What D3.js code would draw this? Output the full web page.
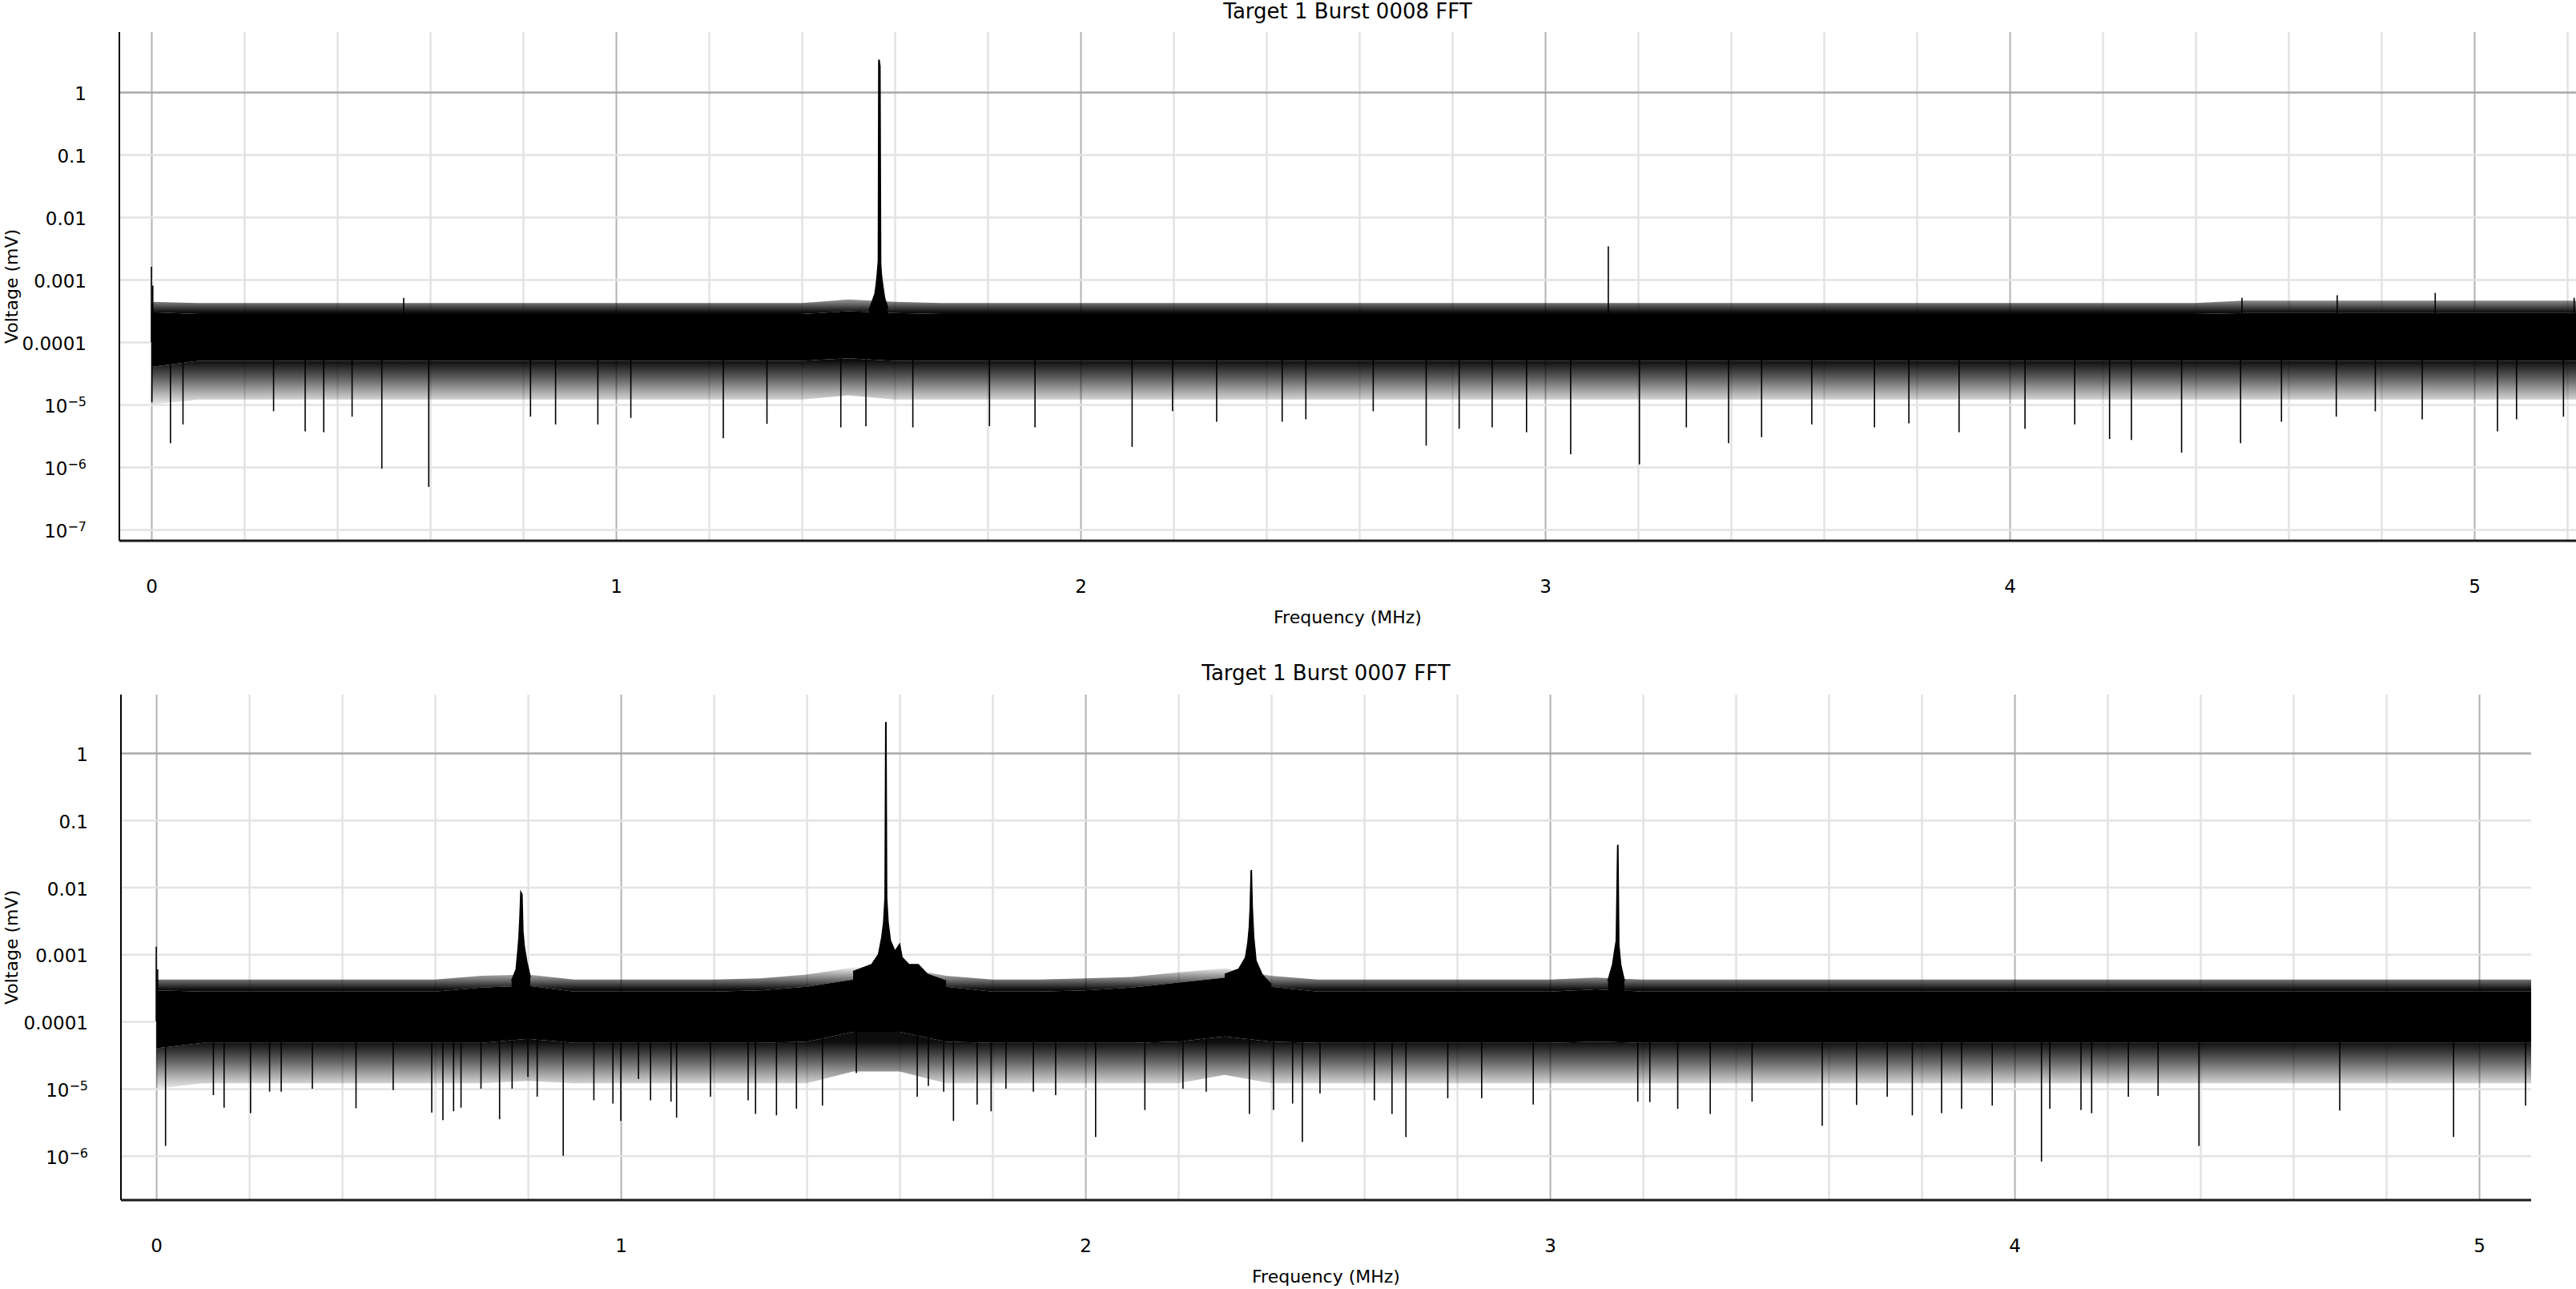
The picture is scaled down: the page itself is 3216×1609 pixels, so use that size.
<!DOCTYPE html>
<html>
<head>
<meta charset="utf-8">
<script src="https://cdn.jsdelivr.net/npm/d3@7"></script>
<style>
html, body { margin: 0; padding: 0; background: #fff; }
svg { display: block; }
</style>
</head>
<body>
<svg id="chart" width="3216" height="1609"></svg>
<script>
// ================= DATA =================
const titles = ["Target 1 Burst 0008 FFT", "Target 1 Burst 0007 FFT"];
const xAxisTitle = "Frequency (MHz)";
const yAxisTitle = "Voltage (mV)";
const xTickValues = [0, 1, 2, 3, 4, 5];
const xTickLabels = ["0", "1", "2", "3", "4", "5"];
const yTickValues8 = [1, 0.1, 0.01, 0.001, 0.0001, 1e-5, 1e-6, 1e-7];
const yTickLabels8 = ["1", "0.1", "0.01", "0.001", "0.0001", "10^-5", "10^-6", "10^-7"];
const yTickValues7 = [1, 0.1, 0.01, 0.001, 0.0001, 1e-5, 1e-6];
const yTickLabels7 = ["1", "0.1", "0.01", "0.001", "0.0001", "10^-5", "10^-6"];

// ---- Burst 0008: noise band read per 0.1 MHz (mV) ----
const binFreq8 = [0,0.1,0.2,0.3,0.4,0.5,0.6,0.7,0.8,0.9,1.0,1.1,1.2,1.3,1.4,1.5,1.6,1.7,1.8,1.9,
  2.0,2.1,2.2,2.3,2.4,2.5,2.6,2.7,2.8,2.9,3.0,3.1,3.2,3.3,3.4,3.5,3.6,3.7,3.8,3.9,
  4.0,4.1,4.2,4.3,4.4,4.5,4.6,4.7,4.8,4.9,5.0,5.1,5.2,5.219];
const coreHi8 = [3.0e-4,2.8e-4,2.8e-4,2.8e-4,2.8e-4,2.8e-4,2.8e-4,2.8e-4,2.8e-4,2.8e-4,
  2.8e-4,2.8e-4,2.8e-4,2.8e-4,2.8e-4,3.1e-4,2.9e-4,2.8e-4,2.8e-4,2.8e-4,
  2.8e-4,2.8e-4,2.8e-4,2.8e-4,2.8e-4,2.8e-4,2.8e-4,2.8e-4,2.8e-4,2.8e-4,
  2.8e-4,2.8e-4,2.8e-4,2.8e-4,2.8e-4,2.8e-4,2.8e-4,2.8e-4,2.8e-4,2.8e-4,
  2.8e-4,2.8e-4,2.8e-4,2.8e-4,2.8e-4,2.9e-4,2.9e-4,2.9e-4,2.9e-4,2.9e-4,
  2.9e-4,2.9e-4,2.9e-4,2.9e-4];
const coreLo8 = [4.0e-5,5.0e-5,5.0e-5,5.0e-5,5.0e-5,5.0e-5,5.0e-5,5.0e-5,5.0e-5,5.0e-5,
  5.0e-5,5.0e-5,5.0e-5,5.0e-5,5.0e-5,5.5e-5,5.0e-5,5.0e-5,5.0e-5,5.0e-5,
  5.0e-5,5.0e-5,5.0e-5,5.0e-5,5.0e-5,5.0e-5,5.0e-5,5.0e-5,5.0e-5,5.0e-5,
  5.0e-5,5.0e-5,5.0e-5,5.0e-5,5.0e-5,5.0e-5,5.0e-5,5.0e-5,5.0e-5,5.0e-5,
  5.0e-5,5.0e-5,5.0e-5,5.0e-5,5.0e-5,5.0e-5,5.0e-5,5.0e-5,5.0e-5,5.0e-5,
  5.0e-5,5.0e-5,5.0e-5,5.0e-5];
const envHi8 = [4.4e-4,4.2e-4,4.2e-4,4.2e-4,4.2e-4,4.2e-4,4.2e-4,4.2e-4,4.2e-4,4.2e-4,
  4.2e-4,4.2e-4,4.2e-4,4.2e-4,4.2e-4,4.8e-4,4.4e-4,4.2e-4,4.2e-4,4.2e-4,
  4.2e-4,4.2e-4,4.2e-4,4.2e-4,4.2e-4,4.2e-4,4.2e-4,4.2e-4,4.2e-4,4.2e-4,
  4.2e-4,4.2e-4,4.2e-4,4.2e-4,4.2e-4,4.2e-4,4.2e-4,4.2e-4,4.2e-4,4.2e-4,
  4.2e-4,4.2e-4,4.2e-4,4.2e-4,4.2e-4,4.6e-4,4.6e-4,4.6e-4,4.6e-4,4.6e-4,
  4.6e-4,4.6e-4,4.6e-4,4.6e-4];
const envLo8 = [1.0e-5,1.2e-5,1.2e-5,1.2e-5,1.2e-5,1.2e-5,1.2e-5,1.2e-5,1.2e-5,1.2e-5,
  1.2e-5,1.2e-5,1.2e-5,1.2e-5,1.2e-5,1.4e-5,1.2e-5,1.2e-5,1.2e-5,1.2e-5,
  1.2e-5,1.2e-5,1.2e-5,1.2e-5,1.2e-5,1.2e-5,1.2e-5,1.2e-5,1.2e-5,1.2e-5,
  1.2e-5,1.2e-5,1.2e-5,1.2e-5,1.2e-5,1.2e-5,1.2e-5,1.2e-5,1.2e-5,1.2e-5,
  1.2e-5,1.2e-5,1.2e-5,1.2e-5,1.2e-5,1.2e-5,1.2e-5,1.2e-5,1.2e-5,1.2e-5,
  1.2e-5,1.2e-5,1.2e-5,1.2e-5];
// peak profiles [MHz, mV]
const peaks8 = [
  [[1.545,3.2e-4],[1.552,4.5e-4],[1.558,6e-4],[1.561,9e-4],[1.563,1.3e-3],[1.565,2.0e-3],
   [1.566,3.3],[1.568,2.6],[1.5695,1.8e-3],[1.571,1.2e-3],[1.574,8e-4],[1.578,5e-4],[1.585,3.5e-4]]
];
const upSpikes8 = [[0,1.6e-3],[0.003,8e-4],[0.543,5.1e-4],[3.136,3.4e-3],[4.50,5.1e-4],
  [4.705,5.6e-4],[4.916,6.1e-4],[5.215,5.1e-4]];
const downSpikes8 = [[0.001,1.1e-5],[0.041,2.4e-6],[0.068,4.8e-6],[0.263,7.8e-6],[0.331,3.7e-6],
  [0.371,3.6e-6],[0.432,6.4e-6],[0.496,9.4e-7],[0.597,4.8e-7],[0.816,6.4e-6],[0.870,4.8e-6],
  [0.961,4.8e-6],[1.032,6.1e-6],[1.231,2.9e-6],[1.325,4.9e-6],[1.484,4.3e-6],[1.538,4.5e-6],
  [1.639,4.3e-6],[1.804,4.5e-6],[1.902,4.3e-6],[2.111,2.1e-6],[2.198,7.8e-6],[2.293,5.3e-6],
  [2.434,5.3e-6],[2.485,5.8e-6],[2.630,7.8e-6],[2.744,2.2e-6],[2.815,4.1e-6],[2.886,4.3e-6],
  [2.960,3.6e-6],[3.055,1.6e-6],[3.203,1.1e-6],[3.304,4.3e-6],[3.395,2.4e-6],[3.466,3.0e-6],
  [3.574,4.8e-6],[3.709,4.3e-6],[3.783,5.0e-6],[3.891,3.6e-6],[4.033,4.1e-6],[4.140,4.8e-6],
  [4.215,2.8e-6],[4.262,2.7e-6],[4.370,1.7e-6],[4.497,2.4e-6],[4.585,5.3e-6],[4.703,6.4e-6],
  [4.787,7.8e-6],[4.888,5.8e-6],[5.050,3.7e-6],[5.091,5.8e-6],[5.192,6.4e-6]];

// ---- Burst 0007: noise band read per 0.1 MHz (mV) ----
const binFreq7 = [0,0.1,0.2,0.3,0.4,0.5,0.6,0.7,0.8,0.9,1.0,1.1,1.2,1.3,1.4,1.5,1.6,1.7,1.8,1.9,
  2.0,2.1,2.2,2.3,2.4,2.5,2.6,2.7,2.8,2.9,3.0,3.1,3.2,3.3,3.4,3.5,3.6,3.7,3.8,3.9,
  4.0,4.1,4.2,4.3,4.4,4.5,4.6,4.7,4.8,4.9,5.0,5.1,5.112];
const coreHi7 = [2.9e-4,2.8e-4,2.8e-4,2.8e-4,2.8e-4,2.8e-4,2.8e-4,3.2e-4,3.4e-4,2.8e-4,
  2.8e-4,2.8e-4,2.8e-4,2.9e-4,3.3e-4,4.2e-4,4.4e-4,3.3e-4,2.8e-4,2.8e-4,
  2.9e-4,3.2e-4,3.8e-4,4.5e-4,3.3e-4,2.8e-4,2.8e-4,2.8e-4,2.8e-4,2.8e-4,
  2.8e-4,3.0e-4,2.8e-4,2.8e-4,2.8e-4,2.8e-4,2.8e-4,2.8e-4,2.8e-4,2.8e-4,
  2.8e-4,2.8e-4,2.8e-4,2.8e-4,2.8e-4,2.8e-4,2.8e-4,2.8e-4,2.8e-4,2.8e-4,
  2.8e-4,2.8e-4,2.8e-4];
const coreLo7 = [4.0e-5,4.8e-5,4.8e-5,4.8e-5,4.8e-5,4.8e-5,4.8e-5,4.8e-5,5.5e-5,4.8e-5,
  4.8e-5,4.8e-5,4.8e-5,4.8e-5,5.0e-5,7.0e-5,7.0e-5,5.0e-5,4.8e-5,4.8e-5,
  4.8e-5,4.8e-5,5.0e-5,6.0e-5,5.0e-5,4.8e-5,4.8e-5,4.8e-5,4.8e-5,4.8e-5,
  4.8e-5,5.0e-5,4.8e-5,4.8e-5,4.8e-5,4.8e-5,4.8e-5,4.8e-5,4.8e-5,4.8e-5,
  4.8e-5,4.8e-5,4.8e-5,4.8e-5,4.8e-5,4.8e-5,4.8e-5,4.8e-5,4.8e-5,4.8e-5,
  4.8e-5,4.8e-5,4.8e-5];
const envHi7 = [4.2e-4,4.2e-4,4.2e-4,4.2e-4,4.2e-4,4.2e-4,4.2e-4,4.8e-4,5.0e-4,4.2e-4,
  4.2e-4,4.2e-4,4.2e-4,4.4e-4,5.0e-4,6.4e-4,6.5e-4,4.8e-4,4.2e-4,4.2e-4,
  4.4e-4,4.6e-4,5.4e-4,6.2e-4,4.8e-4,4.2e-4,4.2e-4,4.2e-4,4.2e-4,4.2e-4,
  4.2e-4,4.5e-4,4.2e-4,4.2e-4,4.2e-4,4.2e-4,4.2e-4,4.2e-4,4.2e-4,4.2e-4,
  4.2e-4,4.2e-4,4.2e-4,4.2e-4,4.2e-4,4.2e-4,4.2e-4,4.2e-4,4.2e-4,4.2e-4,
  4.2e-4,4.2e-4,4.2e-4];
const envLo7 = [1.0e-5,1.2e-5,1.2e-5,1.2e-5,1.2e-5,1.2e-5,1.2e-5,1.2e-5,1.3e-5,1.2e-5,
  1.2e-5,1.2e-5,1.2e-5,1.2e-5,1.2e-5,1.8e-5,1.8e-5,1.2e-5,1.2e-5,1.2e-5,
  1.2e-5,1.2e-5,1.2e-5,1.6e-5,1.2e-5,1.2e-5,1.2e-5,1.2e-5,1.2e-5,1.2e-5,
  1.2e-5,1.2e-5,1.2e-5,1.2e-5,1.2e-5,1.2e-5,1.2e-5,1.2e-5,1.2e-5,1.2e-5,
  1.2e-5,1.2e-5,1.2e-5,1.2e-5,1.2e-5,1.2e-5,1.2e-5,1.2e-5,1.2e-5,1.2e-5,
  1.2e-5,1.2e-5,1.2e-5];
const peaks7 = [
  [[0.765,4e-4],[0.775,6e-4],[0.779,1.2e-3],[0.781,1.8e-3],[0.783,3.5e-3],[0.785,8.3e-3],
   [0.787,7.8e-3],[0.789,2.2e-3],[0.792,1.3e-3],[0.797,8e-4],[0.805,4.5e-4]],
  [[1.50,5.5e-4],[1.54,7e-4],[1.555,1e-3],[1.562,1.8e-3],[1.566,3e-3],[1.569,7e-3],[1.5705,2.9],
   [1.572,7e-3],[1.575,3e-3],[1.58,1.6e-3],[1.59,1.1e-3],[1.60,1.4e-3],[1.605,9e-4],[1.62,7e-4],
   [1.64,7.0e-4],[1.66,5e-4],[1.70,4e-4]],
  [[2.30,5e-4],[2.33,6e-4],[2.345,9e-4],[2.350,1.5e-3],[2.353,2.5e-3],[2.355,5e-3],[2.357,0.018],
   [2.359,5e-3],[2.362,1.8e-3],[2.367,8e-4],[2.38,5e-4],[2.40,3.5e-4]],
  [[3.125,4e-4],[3.135,7e-4],[3.140,1.2e-3],[3.143,1.6e-3],[3.146,0.043],[3.148,1.4e-3],
   [3.152,7e-4],[3.16,4e-4]]
];
const upSpikes7 = [[0,1.3e-3],[0.003,6e-4]];
const downSpikes7 = [[0.02,1.4e-6],[0.123,8e-6],[0.146,5.2e-6],[0.203,4.3e-6],[0.244,9e-6],
  [0.269,9e-6],[0.336,1e-5],[0.43,5.1e-6],[0.51,9.5e-6],[0.593,4.4e-6],[0.617,3.4e-6],
  [0.64,4.6e-6],[0.656,5.2e-6],[0.699,1e-5],[0.739,3.5e-6],[0.766,1e-5],[0.80,1.5e-5],
  [0.82,7.6e-6],[0.876,1.0e-6],[0.942,6.7e-6],[0.983,6e-6],[1.0,3.3e-6],[1.038,1.4e-5],
  [1.064,6.7e-6],[1.108,6.4e-6],[1.12,3.7e-6],[1.193,7.6e-6],[1.274,6.7e-6],[1.29,4.2e-6],
  [1.335,4e-6],[1.378,5e-6],[1.434,5.6e-6],[1.507,1.7e-5],[1.638,7.6e-6],[1.662,1.1e-5],
  [1.695,9e-6],[1.716,3.3e-6],[1.767,5.8e-6],[1.797,4.6e-6],[1.829,1e-5],[1.888,9e-6],
  [1.936,8e-6],[2.022,1.9e-6],[2.128,4.8e-6],[2.21,1e-5],[2.26,9e-6],[2.353,4.2e-6],
  [2.405,4.8e-6],[2.446,6e-6],[2.467,1.6e-6],[2.505,8.5e-6],[2.622,6.7e-6],[2.66,4.2e-6],
  [2.69,1.9e-6],[2.78,7.2e-6],[2.853,7.2e-6],[2.964,5.8e-6],[3.189,6.4e-6],[3.215,6.3e-6],
  [3.275,5e-6],[3.345,4.2e-6],[3.435,6.4e-6],[3.586,2.8e-6],[3.66,5.7e-6],[3.726,7.6e-6],
  [3.78,4e-6],[3.843,4.3e-6],[3.886,5e-6],[3.952,5.6e-6],[4.058,8.2e-7],[4.076,5e-6],
  [4.143,4.8e-6],[4.166,4.3e-6],[4.245,7.6e-6],[4.309,7.8e-6],[4.397,1.4e-6],[4.70,4.7e-6],
  [4.945,1.9e-6],[5.10,5.6e-6]];

// ================= LAYOUT =================
const FONT = "'DejaVu Sans', Verdana, sans-serif";
const minorGridStep = 0.2;
const charts = [
  { title: titles[0], freq: binFreq8, coreHi: coreHi8, coreLo: coreLo8, envHi: envHi8, envLo: envLo8,
    peaks: peaks8, up: upSpikes8, down: downSpikes8, yTicks: yTickValues8, yLabels: yTickLabels8,
    left: 149, right: 3216, top: 40, bottom: 675, xDomain: [-0.069, 5.219], yLogDomain: [0.96, -7.18], titleY: 23 },
  { title: titles[1], freq: binFreq7, coreHi: coreHi7, coreLo: coreLo7, envHi: envHi7, envLo: envLo7,
    peaks: peaks7, up: upSpikes7, down: downSpikes7, yTicks: yTickValues7, yLabels: yTickLabels7,
    left: 151, right: 3160, top: 867, bottom: 1498, xDomain: [-0.076, 5.112], yLogDomain: [0.87, -6.66], titleY: 849 }
];

const svg = d3.select("#chart");
const defs = svg.append("defs");

function addGradient(id, stops) {
  const lg = defs.append("linearGradient").attr("id", id)
    .attr("gradientUnits", "userSpaceOnUse")
    .attr("x1", 0).attr("x2", 0).attr("y1", stops[0][0]).attr("y2", stops[stops.length - 1][0]);
  const y0 = stops[0][0], y1 = stops[stops.length - 1][0];
  stops.forEach(s => lg.append("stop").attr("offset", (s[0] - y0) / (y1 - y0))
    .attr("stop-color", "#000").attr("stop-opacity", s[1]));
}

charts.forEach((c, ci) => {
  const x = d3.scaleLinear().domain(c.xDomain).range([c.left, c.right]);
  const y = d3.scaleLog().domain([Math.pow(10, c.yLogDomain[0]), Math.pow(10, c.yLogDomain[1])]).range([c.top, c.bottom]);
  const W = c.right - c.left, H = c.bottom - c.top;
  const g = svg.append("g");

  const clipId = "clip" + ci;
  defs.append("clipPath").attr("id", clipId).append("rect")
    .attr("x", c.left).attr("y", c.top).attr("width", W).attr("height", H);

  // fringe shading (density of noise lines falls off away from the core)
  addGradient("gUp" + ci, [[y(6.5e-4), 0.05], [y(4.2e-4), 0.55], [y(3.0e-4), 0.95]]);
  addGradient("gLo" + ci, [[y(5e-5), 0.95], [y(2.5e-5), 0.6], [y(1.5e-5), 0.3], [y(1.0e-5), 0.08]]);

  // vertical grid
  const minorTicks = d3.range(0, c.xDomain[1] + 1e-9, minorGridStep).map(v => Math.round(v * 10) / 10);
  g.append("g").attr("transform", `translate(0,${c.bottom})`)
    .call(d3.axisBottom(x).tickValues(minorTicks).tickSize(-H).tickFormat(""))
    .call(a => a.select(".domain").remove())
    .selectAll("line")
    .attr("stroke", d => Number.isInteger(d) ? "#b2b2b2" : "#e3e3e3")
    .attr("stroke-width", d => Number.isInteger(d) ? 2 : 2.5);

  // horizontal grid
  g.append("g").attr("transform", `translate(${c.left},0)`)
    .call(d3.axisLeft(y).tickValues(c.yTicks).tickSize(-W).tickFormat(""))
    .call(a => a.select(".domain").remove())
    .selectAll("line")
    .attr("stroke", d => d === 1 ? "#a9a9a9" : "#e3e3e3")
    .attr("stroke-width", 2.5);

  // trace
  const tr = g.append("g").attr("clip-path", `url(#${clipId})`);
  const idx = d3.range(c.freq.length);
  const band = (lo, hi) => d3.area().x(i => x(c.freq[i])).y0(i => y(lo[i])).y1(i => y(hi[i]));
  tr.append("path").datum(idx).attr("d", band(c.envLo, c.coreLo)).attr("fill", `url(#gLo${ci})`);
  tr.append("path").datum(idx).attr("d", band(c.coreHi, c.envHi)).attr("fill", `url(#gUp${ci})`);
  tr.append("path").datum(idx).attr("d", band(c.coreLo, c.coreHi)).attr("fill", "#000");

  const peakArea = d3.area().x(d => x(d[0])).y0(y(1e-4)).y1(d => y(d[1]));
  const peakLine = d3.line().x(d => x(d[0])).y(d => y(d[1]));
  c.peaks.forEach(p => {
    tr.append("path").datum(p).attr("d", peakArea).attr("fill", "#000");
    tr.append("path").datum(p).attr("d", peakLine).attr("fill", "none").attr("stroke", "#000").attr("stroke-width", 2);
  });

  tr.selectAll(".dn").data(c.down).join("line").attr("class", "dn")
    .attr("x1", d => x(d[0])).attr("x2", d => x(d[0]))
    .attr("y1", y(1e-4)).attr("y2", d => y(d[1]))
    .attr("stroke", "#000").attr("stroke-width", 1.6);
  tr.selectAll(".up").data(c.up).join("line").attr("class", "up")
    .attr("x1", d => x(d[0])).attr("x2", d => x(d[0]))
    .attr("y1", y(1e-4)).attr("y2", d => y(d[1]))
    .attr("stroke", "#000").attr("stroke-width", 1.6);

  // axis lines
  g.append("line").attr("x1", c.left).attr("x2", c.left).attr("y1", c.top).attr("y2", c.bottom)
    .attr("stroke", "#000").attr("stroke-width", 2);
  g.append("line").attr("x1", c.left).attr("x2", c.right).attr("y1", c.bottom).attr("y2", c.bottom)
    .attr("stroke", "#1a1a1a").attr("stroke-width", 3);

  // x tick labels
  const xl = {}; xTickValues.forEach((v, i) => xl[v] = xTickLabels[i]);
  g.append("g").attr("transform", `translate(0,${c.bottom})`)
    .call(d3.axisBottom(x).tickValues(xTickValues).tickSize(0).tickFormat(d => xl[d]))
    .call(a => a.select(".domain").remove())
    .selectAll("text")
    .attr("y", 65).attr("dy", 0)
    .attr("font-family", FONT).attr("font-size", 23).attr("fill", "#000");

  // y tick labels
  const yl = new Map(); c.yTicks.forEach((v, i) => yl.set(v, c.yLabels[i]));
  g.append("g").attr("transform", `translate(${c.left},0)`)
    .call(d3.axisLeft(y).tickValues(c.yTicks).tickSize(0).tickPadding(41).tickFormat(d => yl.get(d)))
    .call(a => a.select(".domain").remove())
    .selectAll("text")
    .attr("font-family", FONT).attr("font-size", 23).attr("fill", "#000").attr("dy", "0.42em")
    .each(function (d) {
      const lab = yl.get(d);
      if (lab.indexOf("^") >= 0) {
        const parts = lab.split("^");
        const t = d3.select(this);
        t.text(parts[0]);
        t.append("tspan").attr("dy", "-0.5em").attr("font-size", 16).text(parts[1].replace("-", "\u2212"));
      }
    });

  // titles
  g.append("text").attr("x", (c.left + c.right) / 2).attr("y", c.titleY)
    .attr("text-anchor", "middle").attr("font-family", FONT).attr("font-size", 26).attr("fill", "#000")
    .text(c.title);
  g.append("text").attr("x", (c.left + c.right) / 2).attr("y", c.bottom + 103)
    .attr("text-anchor", "middle").attr("font-family", FONT).attr("font-size", 22).attr("fill", "#000")
    .text(xAxisTitle);
  g.append("text").attr("transform", `translate(14,${(c.top + c.bottom) / 2}) rotate(-90)`)
    .attr("text-anchor", "middle").attr("dominant-baseline", "central")
    .attr("font-family", FONT).attr("font-size", 22).attr("fill", "#000")
    .text(yAxisTitle);
});
</script>
</body>
</html>
